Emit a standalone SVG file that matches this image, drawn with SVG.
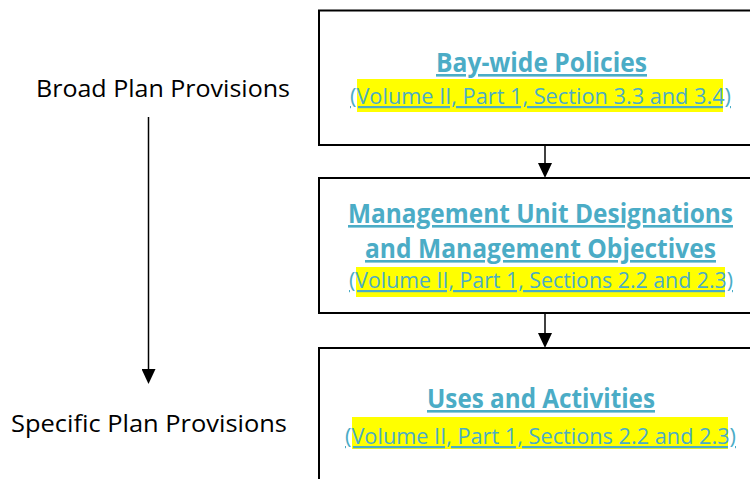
<svg xmlns="http://www.w3.org/2000/svg" width="750" height="479" viewBox="0 0 750 479">
<defs>
<style>
.box{fill:#fff;stroke:#000;stroke-width:2}
.hl{fill:#ffff00}
.lbl{font-family:"Open Sans","Noto Sans",sans-serif;font-size:24.5px;fill:#000;text-anchor:middle}
.ttl{font-family:"Open Sans","Noto Sans",sans-serif;font-size:26px;font-weight:bold;fill:#4BACC6;text-anchor:middle;text-decoration:underline}
.sub{font-family:"Open Sans","Noto Sans",sans-serif;font-size:22px;fill:#4BACC6;text-anchor:middle;text-decoration:underline}
.con{stroke:#000;stroke-width:1.5;fill:none}
</style>
<marker id="ah" viewBox="0 -7 15 14" markerWidth="15" markerHeight="14" markerUnits="userSpaceOnUse" refX="0" refY="0" orient="auto">
<path d="M0,-7 L15,0 L0,7 z" fill="#000"/>
</marker>
</defs>
<rect width="750" height="479" fill="#fff"/>
<g id="broad">
<text class="lbl" x="163" y="97" textLength="254" lengthAdjust="spacingAndGlyphs">Broad Plan Provisions</text>
</g>
<g id="specific">
<text class="lbl" x="149" y="432" textLength="276" lengthAdjust="spacingAndGlyphs">Specific Plan Provisions</text>
</g>
<g id="baywide">
<rect class="box" x="319" y="10.5" width="460" height="134.5"/>
<rect class="hl" x="357" y="79" width="366" height="33"/>
<text class="ttl" x="541.5" y="72" textLength="211" lengthAdjust="spacingAndGlyphs">Bay-wide Policies</text>
<text class="sub" x="540.5" y="104" textLength="381" lengthAdjust="spacingAndGlyphs">(Volume II, Part 1, Section 3.3 and 3.4)</text>
</g>
<g id="management">
<rect class="box" x="319" y="178" width="460" height="135"/>
<rect class="hl" x="356" y="267" width="369" height="30"/>
<text class="ttl" x="540.5" y="223" textLength="385" lengthAdjust="spacingAndGlyphs">Management Unit Designations</text>
<text class="ttl" x="540.5" y="258" textLength="351" lengthAdjust="spacingAndGlyphs">and Management Objectives</text>
<text class="sub" x="541" y="288" textLength="384" lengthAdjust="spacingAndGlyphs">(Volume II, Part 1, Sections 2.2 and 2.3)</text>
</g>
<g id="uses">
<rect class="box" x="319" y="348" width="460" height="200"/>
<rect class="hl" x="352" y="417" width="376" height="32"/>
<text class="ttl" x="541" y="408" textLength="228" lengthAdjust="spacingAndGlyphs">Uses and Activities</text>
<text class="sub" x="540.5" y="444" textLength="391" lengthAdjust="spacingAndGlyphs">(Volume II, Part 1, Sections 2.2 and 2.3)</text>
</g>
<g id="connectors">
<line class="con" x1="545" y1="145" x2="545" y2="163" marker-end="url(#ah)"/>
<line class="con" x1="545" y1="313" x2="545" y2="333" marker-end="url(#ah)"/>
<line class="con" x1="148.5" y1="117" x2="148.5" y2="369" marker-end="url(#ah)"/>
</g>
</svg>
